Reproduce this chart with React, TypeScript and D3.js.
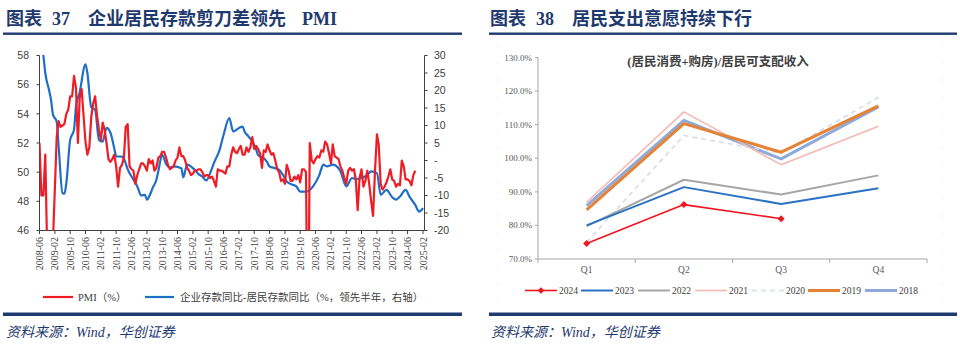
import React from 'react';
import * as d3 from 'd3';

// ---------- Left chart data (图表 37) ----------
const pmiStart = '2008-06';
const pmiValues = [
  52.0, 48.4, 48.4, 51.2, 44.6, 38.8, 41.2,
  45.3, 49.0, 52.4, 53.5, 53.1, 53.2, 53.3, 54.0, 54.3, 55.2, 55.2, 56.6,
  55.8, 52.0, 55.1, 55.7, 53.9, 52.1, 51.2, 51.7, 53.8, 54.7, 55.2, 53.9,
  52.9, 52.2, 53.4, 52.9, 52.0, 50.9, 50.7, 50.9, 51.2, 50.4, 49.0, 50.3,
  50.5, 51.0, 53.1, 53.3, 50.4, 50.2, 50.1, 49.2, 49.8, 50.2, 50.6, 50.6,
  50.4, 50.1, 50.9, 50.6, 50.8, 50.1, 50.3, 51.0, 51.1, 51.4, 51.4, 51.0,
  50.5, 50.2, 50.3, 50.4, 50.8, 51.0, 51.7, 51.1, 51.1, 50.8, 50.3, 50.1,
  49.8, 49.9, 50.1, 50.1, 50.2, 50.2, 50.0, 49.7, 49.8, 49.8, 49.6, 49.7,
  49.4, 49.0, 50.2, 50.1, 50.1, 50.0, 49.9, 50.4, 50.4, 51.2, 51.7, 51.4,
  51.3, 51.6, 51.8, 51.2, 51.2, 51.7, 51.4, 51.7, 52.4, 51.6, 51.8, 51.6,
  51.3, 50.3, 51.5, 51.4, 51.9, 51.5, 51.2, 51.3, 50.8, 50.2, 50.0, 49.4,
  49.5, 49.2, 50.5, 50.1, 49.4, 49.4, 49.7, 49.5, 49.8, 49.3, 50.2, 50.2,
  50.0, 35.7, 52.0, 50.8, 50.6, 50.9, 51.1, 51.0, 51.5, 51.4, 52.1, 51.9,
  51.3, 50.6, 51.9, 51.1, 51.0, 50.9, 50.4, 50.1, 49.6, 49.2, 50.1, 50.3,
  50.1, 50.2, 49.5, 47.4, 49.6, 50.2, 49.0, 49.4, 50.1, 49.2, 48.0, 47.0,
  50.1, 52.6, 51.9, 49.2, 48.8, 49.0, 49.3, 49.7, 50.2, 49.5, 49.4, 49.0,
  49.2, 49.1, 50.8, 50.4, 49.5, 49.5, 49.4, 49.1, 49.8, 50.1,
];

const spreadDates = [
  '2008-08', '2008-09', '2008-11', '2008-12', '2009-01', '2009-03', '2009-04', '2009-06', '2009-07', '2009-08',
  '2009-10', '2009-12', '2010-01', '2010-03', '2010-06', '2010-07', '2010-09', '2010-11', '2011-01', '2011-03',
  '2011-05', '2011-07', '2011-09', '2011-10', '2012-01', '2012-02', '2012-04', '2012-07', '2012-09', '2012-11',
  '2013-01', '2013-02', '2013-04', '2013-05', '2013-07', '2013-08', '2013-10', '2013-12', '2014-02', '2014-04',
  '2014-08', '2014-09', '2014-11', '2015-02', '2015-04', '2015-05', '2015-07', '2015-09', '2015-11', '2016-01',
  '2016-04', '2016-06', '2016-09', '2016-11', '2017-02', '2017-04', '2017-05', '2017-07', '2017-09', '2017-11',
  '2017-12', '2018-03', '2018-05', '2018-06', '2018-09', '2018-11', '2019-01', '2019-03', '2019-06', '2019-08',
  '2019-10', '2020-01', '2020-03', '2020-05', '2020-08', '2020-10', '2020-12', '2021-03', '2021-06', '2021-07',
  '2021-10', '2022-01', '2022-03', '2022-06', '2022-09', '2022-11', '2023-02', '2023-04', '2023-07', '2023-10',
  '2023-12', '2024-02', '2024-05', '2024-07', '2024-10', '2024-12', '2025-02',
];
const spreadValues = [
  30.2, 25.0, 20.0, 17.3, 13.1, 11.1, 4.0, -9.3, -9.5, -6.5,
  5.9, 8.8, 15.4, 19.5, 27.5, 25.0, 15.2, 14.5, 5.9, 5.4,
  9.3, 8.0, 3.5, 1.2, 1.1, 0.5, -2.5, -5.5, -7.4, -10.0,
  -9.8, -11.2, -9.3, -7.9, -5.5, -3.0, 1.6, -1.0, -2.0, -1.7,
  -2.2, -4.8, -1.2, -2.2, -3.3, -3.9, -4.6, -5.7, -3.6, -0.7,
  3.1, 7.3, 12.1, 8.3, 9.3, 9.7, 8.3, 6.9, 5.4, 3.1,
  1.6, 0.7, -0.7, -1.7, -2.2, -2.7, -4.1, -6.0, -6.9, -7.4,
  -8.9, -8.9, -8.4, -7.2, -4.1, -1.2, -1.7, -1.2, -2.2, -3.1,
  -7.4, -5.0, -5.3, -5.0, -4.1, -3.1, -3.6, -9.8, -8.4, -10.5,
  -11.2, -10.3, -8.4, -10.3, -12.7, -14.6, -13.6,
];

const leftTicks = [46, 48, 50, 52, 54, 56, 58];
const rightTicks = [-20, -15, -10, -5, 0, 5, 10, 15, 20, 25, 30];
const xTickLabels = [
  '2008-06', '2009-02', '2009-10', '2010-06', '2011-02', '2011-10', '2012-06', '2013-02', '2013-10',
  '2014-06', '2015-02', '2015-10', '2016-06', '2017-02', '2017-10', '2018-06', '2019-02', '2019-10',
  '2020-06', '2021-02', '2021-10', '2022-06', '2023-02', '2023-10', '2024-06', '2025-02',
];

// ---------- Right chart data (图表 38) ----------
const quarters = ['Q1', 'Q2', 'Q3', 'Q4'];
const pctTicks = [70, 80, 90, 100, 110, 120, 130];
const yearNames = ['2024', '2023', '2022', '2021', '2020', '2019', '2018'];
const v2024 = [74.6, 86.2, 82.0];
const v2023 = [80.0, 91.4, 86.4, 91.1];
const v2022 = [79.8, 93.6, 89.2, 94.9];
const v2021 = [86.9, 113.8, 98.1, 109.5];
const v2020 = [75.0, 106.8, 101.5, 118.1];
const v2019 = [84.6, 110.3, 101.8, 115.6];
const v2018 = [85.9, 111.3, 99.8, 115.3];

const parseMonth = (s: string) => {
  const [y, m] = s.split('-').map(Number);
  return new Date(y, m - 1, 1);
};

const NAVY = '#1f3a6e';
const CJK = "'Liberation Serif', 'Noto Sans CJK SC', serif";
const SANS = "'Liberation Sans', Arial, sans-serif";

export default function App() {
  // ---- left chart scales ----
  const xL = d3.scaleTime().domain([parseMonth('2008-06'), parseMonth('2025-02')]).range([39.5, 423]);
  const yL = d3.scaleLinear().domain([46, 58]).range([230.5, 55.5]);
  const yR = d3.scaleLinear().domain([-20, 30]).range([230.5, 55.5]);
  const pmiData = pmiValues.map((v, i) => ({ d: d3.timeMonth.offset(parseMonth(pmiStart), i), v }));
  const spreadData = spreadDates.map((s, i) => ({ d: parseMonth(s), v: spreadValues[i] }));
  const pmiLine = d3.line<{ d: Date; v: number }>().x((p) => xL(p.d)).y((p) => yL(p.v));
  const spreadLine = d3
    .line<{ d: Date; v: number }>()
    .x((p) => xL(p.d))
    .y((p) => yR(p.v))
    .curve(d3.curveMonotoneX);

  // ---- right chart scales ----
  const xQ = d3.scalePoint<string>().domain(quarters).range([538, 927]).padding(0.5);
  const yP = d3.scaleLinear().domain([70, 130]).range([259, 57.5]);
  const qLine = d3
    .line<number>()
    .x((_, i) => xQ(quarters[i]) as number)
    .y((v) => yP(v));
  const qBounds = d3.range(0, 5).map((i) => 538 + (i * (927 - 538)) / 4);

  const series = [
    { name: '2018', vals: v2018, color: '#8eaadb', w: 3, dash: '' },
    { name: '2020', vals: v2020, color: '#d6dce5', w: 1.6, dash: '5,4' },
    { name: '2021', vals: v2021, color: '#f4b8b2', w: 1.6, dash: '' },
    { name: '2019', vals: v2019, color: '#e58234', w: 3, dash: '' },
    { name: '2022', vals: v2022, color: '#a6a6a6', w: 2, dash: '' },
    { name: '2023', vals: v2023, color: '#2a72c3', w: 2, dash: '' },
    { name: '2024', vals: v2024, color: '#f0151f', w: 1.6, dash: '' },
  ];
  const legendX = [525, 581, 638, 695, 752, 808, 865];
  const byName: Record<string, (typeof series)[number]> = {};
  series.forEach((s) => (byName[s.name] = s));

  const diamond = (cx: number, cy: number, r: number) =>
    `M${cx},${cy - r}L${cx + r},${cy}L${cx},${cy + r}L${cx - r},${cy}Z`;

  return (
    <svg
      width={960}
      height={349}
      viewBox="0 0 960 349"
      style={{ position: 'absolute', left: 0, top: 0, background: '#fff' }}
    >
      <rect x={0} y={0} width={960} height={349} fill="#fff" />
      <defs>
        <clipPath id="plotL">
          <rect x={39.5} y={54} width={385} height={176.5} />
        </clipPath>
      </defs>

      {/* ================= LEFT PANEL ================= */}
      <text fontFamily={CJK} fontWeight="bold" fontSize={18} fill={NAVY} y={25}>
        <tspan x={6}>图表</tspan>
        <tspan x={52}>37</tspan>
        <tspan x={88}>企业居民存款剪刀差领先</tspan>
        <tspan x={302}>PMI</tspan>
      </text>
      <rect x={3} y={32.5} width={459} height={2.4} fill={NAVY} />

      {/* left axis */}
      <line x1={39.5} x2={39.5} y1={55.5} y2={230.5} stroke="#404040" strokeWidth={1} />
      {leftTicks.map((t) => (
        <g key={'lt' + t}>
          <line x1={36.5} x2={39.5} y1={yL(t)} y2={yL(t)} stroke="#404040" />
          <text x={29} y={yL(t) + 3.8} textAnchor="end" fontFamily={SANS} fontSize={10.5} fill="#404040">
            {t}
          </text>
        </g>
      ))}
      {/* right axis */}
      <line x1={424.5} x2={424.5} y1={55.5} y2={230.5} stroke="#404040" strokeWidth={1} />
      {rightTicks.map((t) => (
        <g key={'rt' + t}>
          <line x1={424.5} x2={427.5} y1={yR(t)} y2={yR(t)} stroke="#404040" />
          <text x={434} y={yR(t) + 3.8} textAnchor="start" fontFamily={SANS} fontSize={10.5} fill="#404040">
            {t === 0 ? '-' : t}
          </text>
        </g>
      ))}
      {/* bottom axis */}
      <line x1={39.5} x2={424.5} y1={230.5} y2={230.5} stroke="#404040" strokeWidth={1} />
      {xTickLabels.map((lab) => {
        const x = xL(parseMonth(lab));
        return (
          <g key={'xt' + lab}>
            <line x1={x} x2={x} y1={230.5} y2={234} stroke="#404040" />
            <text
              transform={`translate(${x + 3.5},237) rotate(-90)`}
              textAnchor="end"
              fontFamily="'Liberation Serif', serif"
              fontSize={10}
              fill="#404040"
            >
              {lab}
            </text>
          </g>
        );
      })}

      <g clipPath="url(#plotL)">
        <path d={spreadLine(spreadData) || ''} fill="none" stroke="#1f6fc6" strokeWidth={2.2} strokeLinejoin="round" />
        <path d={pmiLine(pmiData) || ''} fill="none" stroke="#ee1c25" strokeWidth={2.2} strokeLinejoin="round" />
      </g>

      {/* left legend */}
      <line x1={43} x2={73} y1={297} y2={297} stroke="#ee1c25" strokeWidth={2.2} />
      <text x={78} y={300.5} fontFamily={CJK} fontSize={10.5} fill="#404040">
        PMI（%）
      </text>
      <line x1={145} x2={174} y1={297} y2={297} stroke="#1f6fc6" strokeWidth={2.2} />
      <text x={180} y={300.5} fontFamily={CJK} fontSize={10.5} fill="#404040">
        企业存款同比-居民存款同比（%，领先半年，右轴）
      </text>
      <rect x={3} y={312.5} width={459} height={3.5} fill={NAVY} />
      <text x={6} y={337} fontFamily={CJK} fontStyle="italic" fontSize={14} fill={NAVY}>
        资料来源：Wind，华创证券
      </text>

      {/* ================= RIGHT PANEL ================= */}
      <text fontFamily={CJK} fontWeight="bold" fontSize={18} fill={NAVY} y={25}>
        <tspan x={490}>图表</tspan>
        <tspan x={536}>38</tspan>
        <tspan x={572}>居民支出意愿持续下行</tspan>
      </text>
      <rect x={489} y={32.5} width={468} height={2.4} fill={NAVY} />

      {/* faint chart-area border */}
      <line x1={498} x2={498} y1={45} y2={303} stroke="#ececec" strokeDasharray="2,15" />
      <line x1={942} x2={942} y1={45} y2={303} stroke="#ececec" strokeDasharray="2,15" />

      <text
        x={718}
        y={66}
        textAnchor="middle"
        fontFamily={CJK}
        fontWeight="bold"
        fontSize={12.5}
        fill="#404040"
      >
        (居民消费+购房)/居民可支配收入
      </text>

      {/* y axis */}
      <line x1={538} x2={538} y1={57.5} y2={259} stroke="#a6a6a6" />
      {pctTicks.map((t) => (
        <g key={'pt' + t}>
          <line x1={535} x2={538} y1={yP(t)} y2={yP(t)} stroke="#a6a6a6" />
          <text
            x={532}
            y={yP(t) + 3}
            textAnchor="end"
            fontFamily="'Liberation Serif', serif"
            fontSize={9}
            fill="#595959"
          >
            {t.toFixed(1)}%
          </text>
        </g>
      ))}
      {/* x axis */}
      <line x1={538} x2={927} y1={259} y2={259} stroke="#a6a6a6" />
      {qBounds.map((x, i) => (
        <line key={'qb' + i} x1={x} x2={x} y1={259} y2={263} stroke="#a6a6a6" />
      ))}
      {quarters.map((q) => (
        <text
          key={'q' + q}
          x={xQ(q) as number}
          y={273}
          textAnchor="middle"
          fontFamily="'Liberation Serif', serif"
          fontSize={9.5}
          fill="#595959"
        >
          {q}
        </text>
      ))}

      {series.map((s) => (
        <path
          key={'s' + s.name}
          d={qLine(s.vals) || ''}
          fill="none"
          stroke={s.color}
          strokeWidth={s.w}
          strokeDasharray={s.dash}
          strokeLinejoin="round"
        />
      ))}
      {v2024.map((v, i) => (
        <path key={'m' + i} d={diamond(xQ(quarters[i]) as number, yP(v), 3.5)} fill="#f0151f" />
      ))}

      {/* right legend */}
      {yearNames.map((n, i) => {
        const s = byName[n];
        const x0 = legendX[i];
        return (
          <g key={'lg' + n}>
            <line
              x1={x0}
              x2={x0 + 32}
              y1={290.5}
              y2={290.5}
              stroke={s.color}
              strokeWidth={s.w}
              strokeDasharray={s.dash}
            />
            {n === '2024' && <path d={diamond(x0 + 16, 290.5, 3.2)} fill={s.color} />}
            <text x={x0 + 34} y={294} fontFamily="'Liberation Serif', serif" fontSize={9.5} fill="#404040">
              {n}
            </text>
          </g>
        );
      })}

      <rect x={489} y={312.5} width={468} height={3.5} fill={NAVY} />
      <text x={491} y={337} fontFamily={CJK} fontStyle="italic" fontSize={14} fill={NAVY}>
        资料来源：Wind，华创证券
      </text>
    </svg>
  );
}
